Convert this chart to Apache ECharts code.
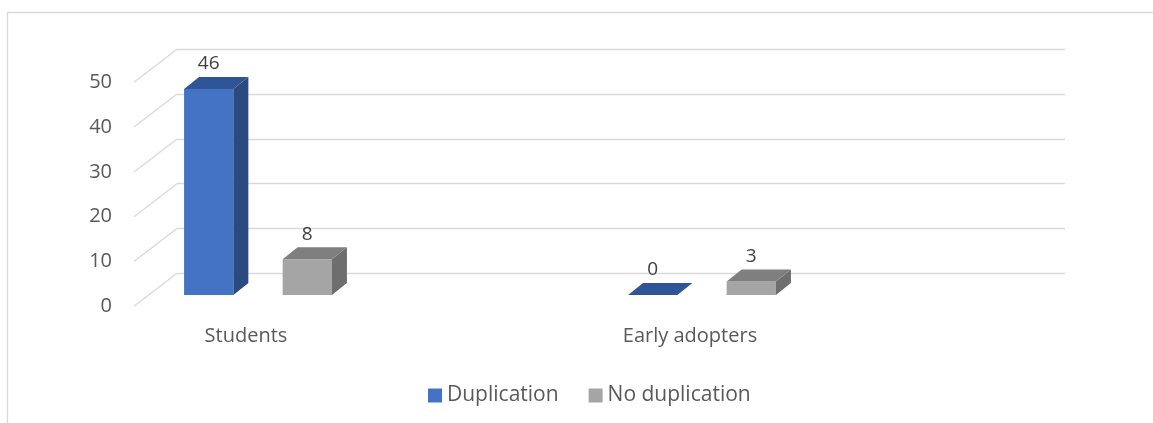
<!DOCTYPE html>
<html>
<head>
<meta charset="utf-8">
<script src="https://cdn.jsdelivr.net/npm/echarts@6/dist/echarts.min.js"></script>
<style>
  html, body { margin: 0; padding: 0; background: #ffffff; }
  #chart { width: 1153px; height: 423px; }
</style>
</head>
<body>
<div id="chart"></div>
<script>
// Chart data
const categories = ['Students', 'Early adopters'];
const duplication = [46, 0];
const noDuplication = [8, 3];
const yTicks = [0, 10, 20, 30, 40, 50];

// Oblique depth used for the pseudo-3D look
const DEPTH_X = 15, DEPTH_Y = 12;      // bar thickness
const FLOOR_X = 43, FLOOR_Y = 33;      // floor depth (front edge to back wall)

const FONT = '"Open Sans", "Liberation Sans", sans-serif';
const TEXT = '#595959';
const GRID = '#D9D9D9';

const colors = {
  'Duplication':    { front: '#4472C4', top: '#2F5597', side: '#2B4A80' },
  'No duplication': { front: '#A5A5A5', top: '#7F7F7F', side: '#6E6E6E' }
};

function barRenderer(slot) {
  return function (params, api) {
    const cat = api.value(0);
    const val = api.value(1);
    const base = api.coord([cat, 0]);
    const top = api.coord([cat, val]);
    const band = api.size([1, 0])[0];
    const w = band * 0.111;
    const x = slot === 0 ? base[0] - 1.5 * w : base[0] + 0.5 * w;
    const yb = base[1], yt = top[1];
    const c = colors[params.seriesName];
    const children = [];
    if (yb - yt > 0.5) {
      children.push({
        type: 'rect',
        shape: { x: x, y: yt, width: w, height: yb - yt },
        style: { fill: c.front }
      });
      children.push({
        type: 'polygon',
        shape: { points: [[x + w, yt], [x + w + DEPTH_X, yt - DEPTH_Y], [x + w + DEPTH_X, yb - DEPTH_Y], [x + w, yb]] },
        style: { fill: c.side }
      });
    }
    children.push({
      type: 'polygon',
      shape: { points: [[x, yt], [x + DEPTH_X, yt - DEPTH_Y], [x + w + DEPTH_X, yt - DEPTH_Y], [x + w, yt]] },
      style: { fill: c.top }
    });
    children.push({
      type: 'text',
      style: {
        x: x + w / 2, y: yt - DEPTH_Y - 13,
        text: String(val),
        fill: '#404040',
        font: '19px ' + FONT,
        align: 'center', verticalAlign: 'middle'
      }
    });
    return { type: 'group', children: children };
  };
}

const chart = echarts.init(document.getElementById('chart'));
chart.setOption({
  backgroundColor: '#ffffff',
  animation: false,
  graphic: [{
    type: 'rect',
    shape: { x: 7.5, y: 12.5, width: 1300, height: 600 },
    style: { fill: 'none', stroke: GRID, lineWidth: 1.3 },
    silent: true, z: -10
  }],
  legend: {
    left: 423, top: 380,
    itemWidth: 14, itemHeight: 14, itemGap: 30,
    icon: 'rect',
    textStyle: { color: TEXT, fontSize: 21, fontFamily: FONT },
    data: ['Duplication', 'No duplication']
  },
  grid: [
    // back wall
    { left: 177, right: 88, top: 49.3, bottom: 149.7 },
    // plane of the bar fronts
    { left: 36, right: 229, top: 71, bottom: 128 },
    // front edge of the floor
    { left: 134, right: 88, top: 82.3, bottom: 116.7 }
  ],
  xAxis: [
    { gridIndex: 0, type: 'value', min: 0, max: 1, show: false },
    {
      gridIndex: 1, type: 'category', data: categories,
      axisLine: { show: false }, axisTick: { show: false },
      axisLabel: { color: TEXT, fontSize: 20, fontFamily: FONT, margin: 31, padding: [0, 24, 0, 0] }
    },
    { gridIndex: 2, type: 'value', min: 0, max: 1, show: false }
  ],
  yAxis: [
    {
      gridIndex: 0, type: 'value', min: 0, max: 50, interval: 10,
      axisLine: { show: false }, axisTick: { show: false }, axisLabel: { show: false },
      splitLine: { lineStyle: { color: GRID, width: 1.3 } }
    },
    { gridIndex: 1, type: 'value', min: 0, max: 50, interval: 10, show: false },
    {
      gridIndex: 2, type: 'value', min: 0, max: 50, interval: 10,
      axisLine: { show: false }, axisTick: { show: false }, splitLine: { show: false },
      axisLabel: { color: TEXT, fontSize: 20, fontFamily: FONT, margin: 22 }
    }
  ],
  series: [
    {
      // floor lines running from the value axis back to the wall
      type: 'custom', xAxisIndex: 2, yAxisIndex: 2, silent: true,
      data: yTicks.map(v => [0, v]),
      renderItem: function (params, api) {
        const p = api.coord([0, api.value(1)]);
        return {
          type: 'line',
          shape: { x1: p[0], y1: p[1], x2: p[0] + FLOOR_X, y2: p[1] - FLOOR_Y },
          style: { stroke: GRID, lineWidth: 1.3 }
        };
      }
    },
    {
      name: 'Duplication', type: 'custom', xAxisIndex: 1, yAxisIndex: 1,
      itemStyle: { color: colors['Duplication'].front },
      data: duplication.map((v, i) => [i, v]),
      renderItem: barRenderer(0)
    },
    {
      name: 'No duplication', type: 'custom', xAxisIndex: 1, yAxisIndex: 1,
      itemStyle: { color: colors['No duplication'].front },
      data: noDuplication.map((v, i) => [i, v]),
      renderItem: barRenderer(1)
    }
  ]
});
</script>
</body>
</html>
